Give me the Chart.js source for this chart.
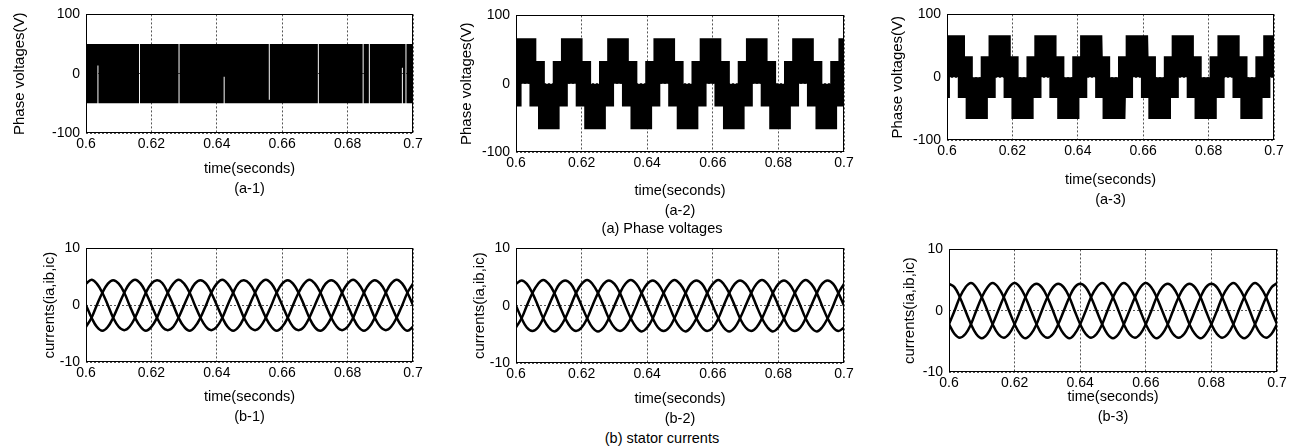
<!DOCTYPE html>
<html>
<head>
<meta charset="utf-8">
<script src="https://cdn.jsdelivr.net/npm/chart.js@4.4.1/dist/chart.umd.min.js"></script>
<style>
  html, body { margin: 0; padding: 0; background: #fff; }
  body { width: 1297px; height: 448px; position: relative; overflow: hidden; }
  .panel { position: absolute; }
  .caption { position: absolute; font: 14.5px "Liberation Sans", Arial, sans-serif; color: #000;
             line-height: 1; white-space: nowrap; transform: translateX(-50%); }
</style>
</head>
<body>
<div class="panel"><canvas id="a1"></canvas></div>
<div class="panel"><canvas id="a2"></canvas></div>
<div class="panel"><canvas id="a3"></canvas></div>
<div class="panel"><canvas id="b1"></canvas></div>
<div class="panel"><canvas id="b2"></canvas></div>
<div class="panel"><canvas id="b3"></canvas></div>
<div class="caption" style="left:662px; top:221px">(a) Phase voltages</div>
<div class="caption" style="left:662px; top:431px">(b) stator currents</div>

<script>
const FONT = '"Liberation Sans", Arial, Helvetica, sans-serif';

const xTicks = [0.6, 0.62, 0.64, 0.66, 0.68, 0.7];
const vTicks = [-100, 0, 100];
const iTicks = [-10, 0, 10];

// (a-1) pole voltage, +/-50 V switching; upper/lower edge of the switching band
// for the interval starting at each time, including the few white slits
const a1Time  = [0.6000, 0.6035, 0.6038, 0.6162, 0.6165, 0.6283, 0.6286, 0.6421, 0.6424,
                 0.6559, 0.6562, 0.6709, 0.6712, 0.6846, 0.6849, 0.6865, 0.6868, 0.6966,
                 0.6969, 0.6977, 0.6980, 0.7000];
const a1Upper = [50, 50, 50, 50, 50, 50, 50, 50, 50, -44, 50, -50, 50, 50, 50, 50, 50, 50, 50, 50, 50, 50];
const a1Lower = [-50, 14, -50, 50, -50, 50, -50, -5, -50, -50, -50, -50, -50, 50, -50, 50, -50, 10, -50, 50, -50, -50];

// (a-2) five-level phase voltage band edges
const a2Time = [
  0.6000, 0.6017, 0.6041, 0.6062, 0.6067, 0.6088, 0.6112, 0.6133,
  0.6137, 0.6158, 0.6182, 0.6203, 0.6208, 0.6229, 0.6253, 0.6274,
  0.6278, 0.6299, 0.6323, 0.6344, 0.6349, 0.6370, 0.6394, 0.6415,
  0.6419, 0.6440, 0.6464, 0.6485, 0.6490, 0.6511, 0.6535, 0.6556,
  0.6560, 0.6581, 0.6605, 0.6626, 0.6631, 0.6652, 0.6676, 0.6697,
  0.6701, 0.6722, 0.6746, 0.6767, 0.6772, 0.6793, 0.6817, 0.6838,
  0.6842, 0.6863, 0.6887, 0.6908, 0.6913, 0.6934, 0.6958, 0.6979,
  0.6983, 0.7000];
const a2Upper = [
  66.7, 66.7, 66.7, 33.3, 33.3, 0, 33.3, 33.3,
  66.7, 66.7, 66.7, 33.3, 33.3, 0, 33.3, 33.3,
  66.7, 66.7, 66.7, 33.3, 33.3, 0, 33.3, 33.3,
  66.7, 66.7, 66.7, 33.3, 33.3, 0, 33.3, 33.3,
  66.7, 66.7, 66.7, 33.3, 33.3, 0, 33.3, 33.3,
  66.7, 66.7, 66.7, 33.3, 33.3, 0, 33.3, 33.3,
  66.7, 66.7, 66.7, 33.3, 33.3, 0, 33.3, 33.3,
  66.7, 66.7];
const a2Lower = [
  -33.3, 0, -33.3, -33.3, -66.7, -66.7, -66.7, -33.3,
  -33.3, 0, -33.3, -33.3, -66.7, -66.7, -66.7, -33.3,
  -33.3, 0, -33.3, -33.3, -66.7, -66.7, -66.7, -33.3,
  -33.3, 0, -33.3, -33.3, -66.7, -66.7, -66.7, -33.3,
  -33.3, 0, -33.3, -33.3, -66.7, -66.7, -66.7, -33.3,
  -33.3, 0, -33.3, -33.3, -66.7, -66.7, -66.7, -33.3,
  -33.3, 0, -33.3, -33.3, -66.7, -66.7, -66.7, -33.3,
  -33.3, -33.3];

// (a-3) five-level phase voltage band edges
const a3Time = [
  0.6000, 0.6009, 0.6033, 0.6055, 0.6057, 0.6079, 0.6103, 0.6125,
  0.6127, 0.6149, 0.6173, 0.6195, 0.6197, 0.6219, 0.6243, 0.6265,
  0.6267, 0.6289, 0.6313, 0.6335, 0.6337, 0.6359, 0.6383, 0.6405,
  0.6407, 0.6429, 0.6453, 0.6475, 0.6477, 0.6499, 0.6523, 0.6545,
  0.6547, 0.6569, 0.6593, 0.6615, 0.6617, 0.6639, 0.6663, 0.6685,
  0.6687, 0.6709, 0.6733, 0.6755, 0.6757, 0.6779, 0.6803, 0.6825,
  0.6827, 0.6849, 0.6873, 0.6895, 0.6897, 0.6919, 0.6943, 0.6965,
  0.6967, 0.6989, 0.7000];
const a3Upper = [
  66.7, 66.7, 66.7, 33.3, 33.3, 0, 33.3, 33.3,
  66.7, 66.7, 66.7, 33.3, 33.3, 0, 33.3, 33.3,
  66.7, 66.7, 66.7, 33.3, 33.3, 0, 33.3, 33.3,
  66.7, 66.7, 66.7, 33.3, 33.3, 0, 33.3, 33.3,
  66.7, 66.7, 66.7, 33.3, 33.3, 0, 33.3, 33.3,
  66.7, 66.7, 66.7, 33.3, 33.3, 0, 33.3, 33.3,
  66.7, 66.7, 66.7, 33.3, 33.3, 0, 33.3, 33.3,
  66.7, 66.7, 66.7];
const a3Lower = [
  -33.3, 0, -33.3, -33.3, -66.7, -66.7, -66.7, -33.3,
  -33.3, 0, -33.3, -33.3, -66.7, -66.7, -66.7, -33.3,
  -33.3, 0, -33.3, -33.3, -66.7, -66.7, -66.7, -33.3,
  -33.3, 0, -33.3, -33.3, -66.7, -66.7, -66.7, -33.3,
  -33.3, 0, -33.3, -33.3, -66.7, -66.7, -66.7, -33.3,
  -33.3, 0, -33.3, -33.3, -66.7, -66.7, -66.7, -33.3,
  -33.3, 0, -33.3, -33.3, -66.7, -66.7, -66.7, -33.3,
  -33.3, 0, 0];

// stator current samples (A), one row per 20 ms cycle
const curTime = [
  0.6000, 0.6017, 0.6033, 0.6050, 0.6067, 0.6083, 0.6100, 0.6117, 0.6133, 0.6150, 0.6167, 0.6183,
  0.6200, 0.6217, 0.6233, 0.6250, 0.6267, 0.6283, 0.6300, 0.6317, 0.6333, 0.6350, 0.6367, 0.6383,
  0.6400, 0.6417, 0.6433, 0.6450, 0.6467, 0.6483, 0.6500, 0.6517, 0.6533, 0.6550, 0.6567, 0.6583,
  0.6600, 0.6617, 0.6633, 0.6650, 0.6667, 0.6683, 0.6700, 0.6717, 0.6733, 0.6750, 0.6767, 0.6783,
  0.6800, 0.6817, 0.6833, 0.6850, 0.6867, 0.6883, 0.6900, 0.6917, 0.6933, 0.6950, 0.6967, 0.6983,
  0.7000];

const b1Ia = [
  3.8, 4.5, 3.8, 2.2, 0, -2.2, -3.8, -4.4, -3.8, -2.2, 0, 2.2,
  3.8, 4.4, 3.9, 2.2, 0, -2.2, -3.8, -4.5, -3.8, -2.2, 0, 2.2,
  3.8, 4.5, 3.8, 2.2, 0, -2.2, -3.8, -4.4, -3.8, -2.2, 0, 2.2,
  3.8, 4.4, 3.8, 2.2, 0, -2.2, -3.9, -4.5, -3.8, -2.2, 0, 2.2,
  3.8, 4.5, 3.8, 2.2, 0, -2.2, -3.8, -4.4, -3.8, -2.2, 0, 2.2,
  3.8];
const b1Ib = [
  -3.8, -2.2, 0, 2.2, 3.8, 4.4, 3.8, 2.2, 0, -2.2, -3.8, -4.5,
  -3.8, -2.2, 0, 2.2, 3.8, 4.5, 3.8, 2.2, 0, -2.2, -3.8, -4.4,
  -3.8, -2.2, 0, 2.2, 3.9, 4.4, 3.8, 2.2, 0, -2.2, -3.8, -4.5,
  -3.8, -2.2, 0, 2.2, 3.8, 4.5, 3.8, 2.2, 0, -2.2, -3.8, -4.4,
  -3.8, -2.2, 0, 2.2, 3.8, 4.4, 3.8, 2.2, 0, -2.2, -3.8, -4.5,
  -3.8];
const b1Ic = [
  0, -2.2, -3.8, -4.5, -3.8, -2.2, 0, 2.2, 3.8, 4.5, 3.8, 2.2,
  0, -2.2, -3.8, -4.4, -3.8, -2.2, 0, 2.2, 3.8, 4.4, 3.8, 2.2,
  0, -2.2, -3.8, -4.5, -3.8, -2.2, 0, 2.2, 3.8, 4.5, 3.8, 2.2,
  0, -2.2, -3.8, -4.4, -3.8, -2.2, 0, 2.2, 3.8, 4.4, 3.8, 2.2,
  0, -2.2, -3.8, -4.5, -3.8, -2.2, 0, 2.2, 3.8, 4.5, 3.8, 2.2,
  0];

const b2Ia = [
  3.8, 4.4, 3.8, 2.2, 0, -2.2, -3.8, -4.5, -3.8, -2.2, 0, 2.2,
  3.8, 4.5, 3.8, 2.2, 0, -2.2, -3.8, -4.4, -3.8, -2.2, 0, 2.2,
  3.8, 4.4, 3.8, 2.2, 0, -2.2, -3.8, -4.5, -3.8, -2.2, 0, 2.2,
  3.8, 4.5, 3.8, 2.2, 0, -2.2, -3.8, -4.4, -3.8, -2.2, 0, 2.2,
  3.8, 4.4, 3.8, 2.2, 0, -2.2, -3.8, -4.5, -3.8, -2.2, 0, 2.2,
  3.8];
const b2Ib = [
  -3.8, -2.2, 0, 2.2, 3.8, 4.5, 3.8, 2.2, 0, -2.2, -3.8, -4.4,
  -3.8, -2.2, 0, 2.2, 3.8, 4.4, 3.8, 2.2, 0, -2.2, -3.8, -4.5,
  -3.8, -2.2, 0, 2.2, 3.8, 4.5, 3.8, 2.2, 0, -2.2, -3.8, -4.4,
  -3.8, -2.2, 0, 2.2, 3.8, 4.4, 3.8, 2.2, 0, -2.2, -3.8, -4.5,
  -3.8, -2.2, 0, 2.2, 3.8, 4.5, 3.8, 2.2, 0, -2.2, -3.8, -4.4,
  -3.8];
const b2Ic = [
  0, -2.2, -3.8, -4.4, -3.8, -2.2, 0, 2.2, 3.8, 4.4, 3.8, 2.2,
  0, -2.2, -3.8, -4.5, -3.8, -2.2, 0, 2.2, 3.8, 4.5, 3.8, 2.2,
  0, -2.2, -3.8, -4.4, -3.8, -2.2, 0, 2.2, 3.8, 4.4, 3.8, 2.2,
  0, -2.2, -3.8, -4.5, -3.8, -2.2, 0, 2.2, 3.8, 4.5, 3.8, 2.2,
  0, -2.2, -3.8, -4.4, -3.8, -2.2, 0, 2.2, 3.8, 4.4, 3.8, 2.2,
  0];

const b3Ia = [
  4.4, 3.8, 2.2, 0, -2.2, -3.8, -4.5, -3.8, -2.2, 0, 2.2, 3.8,
  4.5, 3.8, 2.2, 0, -2.2, -3.8, -4.4, -3.8, -2.2, 0, 2.2, 3.8,
  4.4, 3.8, 2.2, 0, -2.2, -3.8, -4.5, -3.8, -2.2, 0, 2.2, 3.8,
  4.5, 3.8, 2.2, 0, -2.2, -3.8, -4.4, -3.8, -2.2, 0, 2.2, 3.8,
  4.4, 3.8, 2.2, 0, -2.2, -3.8, -4.5, -3.8, -2.2, 0, 2.2, 3.8,
  4.5];
const b3Ib = [
  -2.2, 0, 2.2, 3.8, 4.5, 3.8, 2.2, 0, -2.2, -3.8, -4.4, -3.8,
  -2.2, 0, 2.2, 3.8, 4.4, 3.8, 2.2, 0, -2.2, -3.8, -4.5, -3.8,
  -2.2, 0, 2.2, 3.8, 4.5, 3.8, 2.2, 0, -2.2, -3.8, -4.4, -3.8,
  -2.2, 0, 2.2, 3.8, 4.4, 3.8, 2.2, 0, -2.2, -3.8, -4.5, -3.8,
  -2.2, 0, 2.2, 3.8, 4.5, 3.8, 2.2, 0, -2.2, -3.8, -4.4, -3.8,
  -2.2];
const b3Ic = [
  -2.2, -3.8, -4.4, -3.8, -2.2, 0, 2.2, 3.8, 4.5, 3.8, 2.2, 0,
  -2.2, -3.8, -4.5, -3.8, -2.2, 0, 2.2, 3.8, 4.4, 3.8, 2.2, 0,
  -2.2, -3.8, -4.4, -3.8, -2.2, 0, 2.2, 3.8, 4.5, 3.8, 2.2, 0,
  -2.2, -3.8, -4.5, -3.8, -2.2, 0, 2.2, 3.8, 4.4, 3.8, 2.2, 0,
  -2.2, -3.8, -4.4, -3.8, -2.2, 0, 2.2, 3.8, 4.5, 3.8, 2.2, 0,
  -2.2];

const pts = (xs, ys) => xs.map((x, i) => ({ x, y: ys[i] }));

// hold each value until the next time, as explicit vertices
function steps(xs, ys) {
  const out = [];
  xs.forEach((x, i) => {
    if (i > 0) out.push({ x, y: ys[i - 1] });
    out.push({ x, y: ys[i] });
  });
  return out;
}

// black fill between the upper and lower edge of a switching band
function band(time, upper, lower) {
  const common = { pointRadius: 0, tension: 0, borderColor: 'rgba(0,0,0,0)', borderWidth: 1 };
  return [
    { ...common, data: steps(time, upper), fill: '+1', backgroundColor: '#000' },
    { ...common, data: steps(time, lower), fill: false }
  ];
}

function phases(time, ia, ib, ic) {
  return [ia, ib, ic].map(v => ({
    data: pts(time, v), borderColor: '#000', borderWidth: 2.5,
    pointRadius: 0, tension: 0.4, fill: false
  }));
}

// axes frame drawn over the data, like a boxed plot
const framePlugin = {
  id: 'frame',
  afterDatasetsDraw(chart) {
    const { ctx, chartArea: a } = chart;
    ctx.save();
    ctx.strokeStyle = '#000';
    ctx.lineWidth = 1;
    ctx.strokeRect(Math.round(a.left) + 0.5, Math.round(a.top) + 0.5,
                   Math.round(a.right - a.left) - 1, Math.round(a.bottom - a.top) - 1);
    ctx.restore();
  }
};

const LEFT = 86, TOP = 14, RIGHT = 16;

function panel(id, box, yTicks, yTitle, yTitlePad, caption, xH, datasets) {
  const wrap = document.getElementById(id).parentNode;
  wrap.style.left = (box[0] - LEFT) + 'px';
  wrap.style.top = (box[1] - TOP) + 'px';
  wrap.style.width = (box[2] - box[0] + LEFT + RIGHT) + 'px';
  wrap.style.height = (box[3] - box[1] + TOP + xH) + 'px';

  const grid = { color: '#555', lineWidth: 1, drawTicks: false };
  const tickFont = { family: FONT, size: 14 };

  new Chart(document.getElementById(id), {
    type: 'line',
    data: { datasets },
    plugins: [framePlugin],
    options: {
      responsive: true,
      maintainAspectRatio: false,
      animation: false,
      events: [],
      layout: { padding: { left: 0, top: TOP, right: RIGHT, bottom: 0 } },
      plugins: { legend: { display: false }, tooltip: { enabled: false } },
      scales: {
        x: {
          type: 'linear', min: 0.6, max: 0.7,
          afterBuildTicks: s => { s.ticks = xTicks.map(value => ({ value })); },
          afterFit: s => { s.height = xH; },
          grid,
          border: { display: false, dash: [2, 2] },
          ticks: { padding: 3, color: '#000', font: tickFont, maxRotation: 0, autoSkip: false,
                   callback: v => String(+v.toFixed(2)) },
          title: { display: true, text: ['time(seconds)', caption], color: '#000',
                   font: { family: FONT, size: 14.5, lineHeight: '20px' }, padding: 0 }
        },
        y: {
          type: 'linear', min: yTicks[0], max: yTicks[yTicks.length - 1],
          afterBuildTicks: s => { s.ticks = yTicks.map(value => ({ value })); },
          afterFit: s => { s.width = LEFT; },
          grid,
          border: { display: false, dash: [2, 2] },
          ticks: { padding: 6, color: '#000', font: tickFont },
          title: { display: true, text: yTitle, color: '#000', font: { family: FONT, size: 15 },
                   padding: { top: yTitlePad, bottom: 0 } }
        }
      }
    }
  });
}

panel('a1', [86, 14, 413, 133], vTicks, 'Phase voltages(V)', 11, '(a-1)', 66,
      band(a1Time, a1Upper, a1Lower));
panel('a2', [516, 15, 844, 152], vTicks, 'Phase voltages(V)', 28, '(a-2)', 69,
      band(a2Time, a2Upper, a2Lower));
panel('a3', [947, 14, 1274, 140], vTicks, 'Phase voltages(V)', 28, '(a-3)', 70,
      band(a3Time, a3Upper, a3Lower));
panel('b1', [86, 248, 413, 362], iTicks, 'currents(ia,ib,ic)', 41, '(b-1)', 65,
      phases(curTime, b1Ia, b1Ib, b1Ic));
panel('b2', [516, 248, 844, 363], iTicks, 'currents(ia,ib,ic)', 41, '(b-2)', 66,
      phases(curTime, b2Ia, b2Ib, b2Ic));
panel('b3', [949, 249, 1277, 372], iTicks, 'currents(ia,ib,ic)', 38, '(b-3)', 55,
      phases(curTime, b3Ia, b3Ib, b3Ic));
</script>
</body>
</html>
